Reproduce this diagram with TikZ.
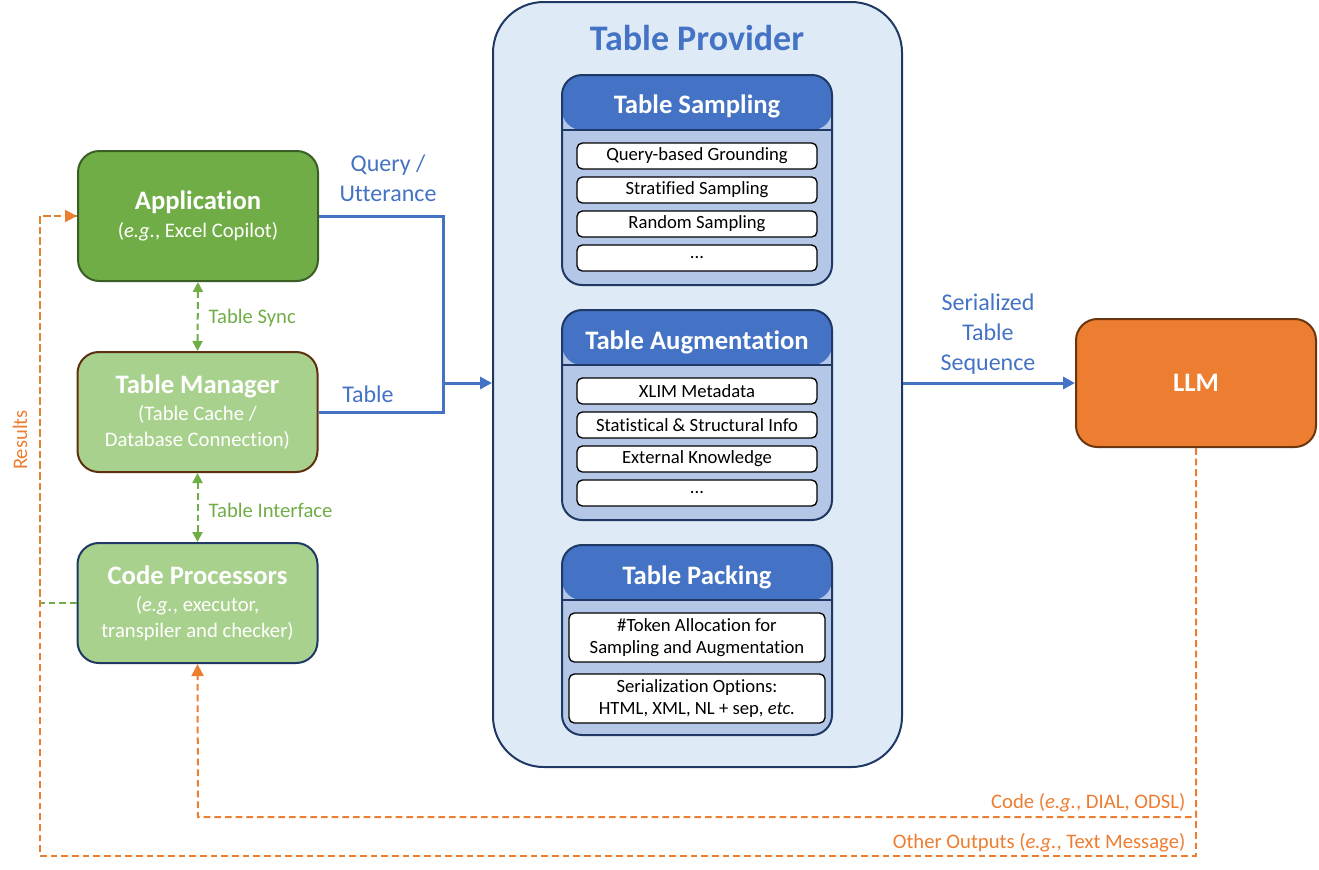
\documentclass[tikz,border=0pt]{standalone}
\usepackage{fontspec}
\setmainfont{Carlito}[Ligatures=NoCommon]
\usetikzlibrary{arrows.meta}
\definecolor{appgreen}{HTML}{70AD47}
\definecolor{appedge}{HTML}{3B5E26}
\definecolor{softgreen}{HTML}{A9D18E}
\definecolor{mgredge}{HTML}{5E2F10}
\definecolor{navy}{HTML}{1F3864}
\definecolor{provfill}{HTML}{DEEBF7}
\definecolor{hdrblue}{HTML}{4472C4}
\definecolor{panelbody}{HTML}{B4C7E7}
\definecolor{llmorange}{HTML}{ED7D31}
\definecolor{llmedge}{HTML}{6B3510}
\newcommand{\boxtitle}[1]{{\fontsize{20}{24}\selectfont\bfseries #1}}
\newcommand{\eg}{\textit{e.g.}}
\begin{document}
\begin{tikzpicture}[x=0.75pt,y=-0.75pt,
  comp/.style={draw,line width=1.5pt,rounded corners=16pt,align=center,text=white,
    minimum width=180pt,font=\fontsize{15.5}{19.5}\selectfont},
  panel/.style={draw=navy,line width=1.5pt,fill=panelbody,rounded corners=15pt,minimum width=202.5pt,
    path picture={\fill[hdrblue] (path picture bounding box.north west) rectangle ([yshift=-41.25pt]path picture bounding box.north east);
      \draw[navy,line width=1pt] ([yshift=-41.25pt]path picture bounding box.north west) -- ([yshift=-41.25pt]path picture bounding box.north east);}},
  hdr/.style={text=white,font=\fontsize{20}{24}\selectfont\bfseries},
  item/.style={draw,fill=white,line width=1pt,rounded corners=4pt,minimum width=180pt,minimum height=19.5pt,
    inner sep=0pt,align=center,font=\fontsize{14}{16.5}\selectfont},
  flow/.style={hdrblue,line width=2.25pt},
  flowlabel/.style={text=hdrblue,align=center,font=\fontsize{18}{22.5}\selectfont},
  sync/.style={appgreen,line width=1.5pt,dash pattern=on 5pt off 3pt},
  synclabel/.style={text=appgreen,anchor=west,font=\fontsize{15.5}{19}\selectfont},
  back/.style={llmorange,line width=1.5pt,dash pattern=on 5pt off 3pt},
  backlabel/.style={text=llmorange,font=\fontsize{15.5}{19}\selectfont},
  tip/.style={-{Triangle[length=9pt,width=9pt]}}]
\useasboundingbox (0,0) rectangle (1319,869);

\node[comp,fill=appgreen,draw=appedge,minimum height=97.5pt] (app) at (198,216) {\boxtitle{Application}\\[1pt](\eg, Excel Copilot)};
\node[comp,fill=softgreen,draw=mgredge,minimum height=90pt] (manager) at (197.5,412) {\boxtitle{Table Manager}\\[1pt](Table Cache /\\Database Connection)};
\node[comp,fill=softgreen,draw=navy,minimum height=90pt] (coder) at (197.5,603) {\boxtitle{Code Processors}\\[1pt](\eg, executor,\\transpiler and checker)};

\node[draw=navy,line width=1.5pt,fill=provfill,rounded corners=38pt,minimum width=306.75pt,minimum height=573.75pt] (provider) at (697.5,384.5) {};
\node[text=hdrblue,font=\fontsize{27}{32}\selectfont\bfseries] (providertitle) at (697,38) {Table Provider};

\node[panel,minimum height=157.5pt] (sampling) at (697,180) {};
\node[hdr] (samplingtitle) at (697,106) {Table Sampling};
\node[item] (s1) at (697,156) {Query-based Grounding};
\node[item] (s2) at (697,190) {Stratified Sampling};
\node[item] (s3) at (697,224) {Random Sampling};
\node[item] (s4) at (697,258) {...};

\node[panel,minimum height=157.5pt] (augment) at (697,415) {};
\node[hdr] (augmenttitle) at (697,342) {Table Augmentation};
\node[item] (a1) at (697,391) {XLIM Metadata};
\node[item] (a2) at (697,425) {Statistical \& Structural Info};
\node[item] (a3) at (697,459) {External Knowledge};
\node[item] (a4) at (697,493) {...};

\node[panel,minimum height=142.5pt] (packing) at (697,640) {};
\node[hdr] (packingtitle) at (697,577) {Table Packing};
\node[item,minimum width=192pt,minimum height=36.75pt] (p1) at (697,637.5) {\#Token Allocation for\\Sampling and Augmentation};
\node[item,minimum width=192pt,minimum height=36.75pt] (p2) at (697,698.5) {Serialization Options:\\HTML, XML, NL + sep, \textit{etc.}};

\node[comp,fill=llmorange,draw=llmedge,minimum height=96pt] (llm) at (1196,383) {\boxtitle{LLM}};

\coordinate (joint) at (443,383);
\draw[flow] (app.east) -| (joint);
\draw[flow] (manager.east) -| (joint);
\draw[flow,tip] (joint) -- (joint -| provider.west);
\draw[flow,tip] (provider.east |- llm.west) -- (llm.west);
\node[flowlabel] (querylabel) at (388,178) {Query /\\Utterance};
\node[flowlabel] (tablelabel) at (368,394) {Table};
\node[flowlabel] (seqlabel) at (988,334) {Serialized\\Table\\Sequence};

\draw[sync,{Triangle[length=7.5pt,width=7.5pt]}-{Triangle[length=7.5pt,width=7.5pt]}] (app.south) -- (manager.north);
\draw[sync,{Triangle[length=7.5pt,width=7.5pt]}-{Triangle[length=7.5pt,width=7.5pt]}] (manager.south) -- (coder.north);
\node[synclabel] (synclabel) at (204,318) {Table Sync};
\node[synclabel] (ifacelabel) at (204,510) {Table Interface};

\coordinate (rescorner) at (40,216);
\coordinate (codeturn) at (198,817);
\coordinate (otherturn) at (40,856);
\draw[sync] (coder.west) -| (rescorner) -- (app.west);
\draw[back,tip] (llm.south) |- (codeturn) -- (coder.south);
\draw[back,tip] (llm.south) |- (otherturn) -- (rescorner) -- (app.west);
\node[backlabel,anchor=east] (codelabel) at (1190,803) {Code (\eg, DIAL, ODSL)};
\node[backlabel,anchor=east] (otherlabel) at (1190,843) {Other Outputs (\eg, Text Message)};
\node[backlabel,rotate=90] (reslabel) at (20,440) {Results};
\end{tikzpicture}
\end{document}
